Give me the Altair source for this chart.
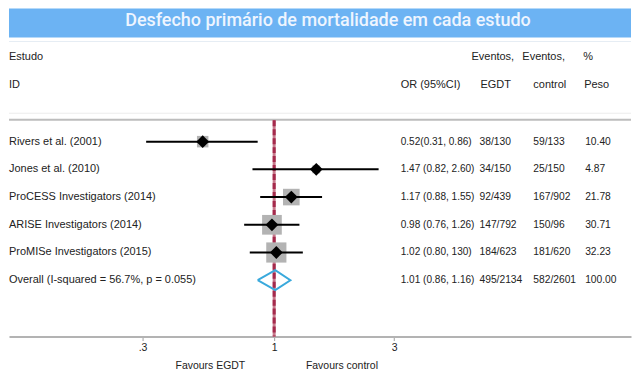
import altair as alt
import pandas as pd

# ---------------- data ----------------
title_text = "Desfecho primário de mortalidade em cada estudo"
studies = ["Rivers et al. (2001)", "Jones et al. (2010)", "ProCESS Investigators (2014)",
           "ARISE Investigators (2014)", "ProMISe Investigators (2015)"]
or_est = [0.52, 1.47, 1.17, 0.98, 1.02]
ci_low = [0.31, 0.82, 0.88, 0.76, 0.80]
ci_high = [0.86, 2.60, 1.55, 1.26, 1.30]
or_text = ["0.52(0.31, 0.86)", "1.47 (0.82, 2.60)", "1.17 (0.88, 1.55)",
           "0.98 (0.76, 1.26)", "1.02 (0.80, 130)"]
events_egdt = ["38/130", "34/150", "92/439", "147/792", "184/623"]
events_control = ["59/133", "25/150", "167/902", "150/96", "181/620"]
weights = [10.40, 4.87, 21.78, 30.71, 32.23]

overall_label = "Overall (I-squared = 56.7%, p = 0.055)"
overall_or = 1.01
overall_low = 0.86
overall_high = 1.16
overall_text = "1.01 (0.86, 1.16)"
overall_egdt = "495/2134"
overall_control = "582/2601"
overall_weight = 100.00

tick_values = [0.3, 1, 3]
tick_labels = [".3", "1", "3"]
favours = ["Favours EGDT", "Favours control"]
header_top = ["Estudo", "Eventos,", "Eventos,", "%"]
header_bottom = ["ID", "OR (95%CI)", "EGDT", "control", "Peso"]

# ---------------- layout (pixels) ----------------
W, H = 624, 329
FONT = "Liberation Sans"
TXT = "#222222"
header_top_x = [0, 464, 515, 576]
header_bottom_x = [0, 393, 473, 526, 577]
col_x = {"study": 0, "or_text": 393, "egdt": 472, "ctrl": 526, "wtxt": 578}
col_size = {"study": 11, "or_text": 10.1, "egdt": 10.3, "ctrl": 10.3, "wtxt": 10.3}
favours_x = [202, 334]

n = len(studies)
studies_df = pd.DataFrame({
    "row": list(range(n)), "study": studies, "or": or_est,
    "lo": ci_low, "hi": ci_high, "w": weights,
})
table_df = pd.DataFrame({
    "row": list(range(n + 1)),
    "study": studies + [overall_label],
    "or_text": or_text + [overall_text],
    "egdt": events_egdt + [overall_egdt],
    "ctrl": events_control + [overall_control],
    "wtxt": [f"{v:.2f}" for v in weights + [overall_weight]],
})
half_h = 0.36  # diamond half-height in row units
diamond_df = pd.DataFrame({
    "x": [overall_low, overall_or, overall_high, overall_or, overall_low],
    "row": [n, n - half_h, n, n + half_h, n],
    "ord": [0, 1, 2, 3, 4],
})

label_expr = "'" + tick_labels[-1] + "'"
for v, l in reversed(list(zip(tick_values[:-1], tick_labels[:-1]))):
    label_expr = f"datum.value < {v} * 1.5 ? '{l}' : " + label_expr

xscale = alt.Scale(type="log", domain=[0.0884, 26.17], nice=False)
yscale = alt.Scale(domain=[0, n], range=[133.5, 272.5])

X = lambda f: alt.X(f, type="quantitative", scale=xscale, axis=alt.Axis(
    values=tick_values, labelExpr=label_expr, title=None, grid=False,
    domainColor="#b3b3b3", domainWidth=2, tickColor="#a0a0a0", tickSize=4,
    labelFont=FONT, labelFontSize=10.5, labelColor=TXT, labelPadding=2))
Y = lambda f: alt.Y(f, type="quantitative", scale=yscale, axis=None)

layers = []

# title bar
layers.append(alt.Chart(pd.DataFrame({"t": [title_text]})).mark_rect(color="#6cb3f3").encode(
    x=alt.value(0), x2=alt.value(W), y=alt.value(0), y2=alt.value(29)))
layers.append(alt.Chart(pd.DataFrame({"t": [title_text]})).mark_text(
    font="Roboto", fontSize=18, fontWeight=500, color="#eef5ff", align="center", baseline="middle"
).encode(x=alt.value(320), y=alt.value(12), text="t:N"))

# separator lines
layers.append(alt.Chart(pd.DataFrame({"a": [0]})).mark_rule(color="#e6edf4", strokeWidth=1).encode(
    x=alt.value(0), x2=alt.value(W), y=alt.value(33)))
layers.append(alt.Chart(pd.DataFrame({"a": [0]})).mark_rule(color="#ececec", strokeWidth=1).encode(
    x=alt.value(0), x2=alt.value(W), y=alt.value(105)))
layers.append(alt.Chart(pd.DataFrame({"a": [0]})).mark_rule(color="#bdbdbd", strokeWidth=2).encode(
    x=alt.value(0), x2=alt.value(W), y=alt.value(111.5)))

# headers
for txt, px in zip(header_top, header_top_x):
    layers.append(alt.Chart(pd.DataFrame({"t": [txt]})).mark_text(
        font=FONT, fontSize=11, color=TXT, align="left", baseline="middle"
    ).encode(x=alt.value(px), y=alt.value(49), text="t:N"))
for txt, px in zip(header_bottom, header_bottom_x):
    layers.append(alt.Chart(pd.DataFrame({"t": [txt]})).mark_text(
        font=FONT, fontSize=11, color=TXT, align="left", baseline="middle"
    ).encode(x=alt.value(px), y=alt.value(77), text="t:N"))

# reference line at OR = 1
ref_df = pd.DataFrame({"x": [1.0]})
layers.append(alt.Chart(ref_df).mark_rule(color="#c77a8c", strokeWidth=3).encode(
    x=X("x"), y=alt.value(112), y2=alt.value(H)))
layers.append(alt.Chart(ref_df).mark_rule(color="#a52a4c", strokeWidth=3, strokeDash=[6, 3]).encode(
    x=X("x"), y=alt.value(112), y2=alt.value(H)))

# weight squares
layers.append(alt.Chart(studies_df).mark_square(color="#b3b3b3", opacity=1).encode(
    x=X("or"), y=Y("row"),
    size=alt.Size("w:Q", scale=alt.Scale(domain=[0, 32.23], range=[0, 410]), legend=None)))

# CI lines
layers.append(alt.Chart(studies_df).mark_rule(color="black", strokeWidth=2).encode(
    x=X("lo"), x2="hi", y=Y("row")))

# point estimates
layers.append(alt.Chart(studies_df).mark_point(shape="diamond", filled=True, color="black",
                                               size=165, opacity=1).encode(
    x=X("or"), y=Y("row")))

# overall diamond
layers.append(alt.Chart(diamond_df).mark_line(color="#39a9dc", strokeWidth=2).encode(
    x=X("x"), y=Y("row"), order="ord:Q"))

# table text
for col, px in col_x.items():
    layers.append(alt.Chart(table_df).mark_text(
        font=FONT, fontSize=col_size[col], color=TXT, align="left", baseline="middle"
    ).encode(x=alt.value(px), y=Y("row"), text=f"{col}:N"))

# favours labels
for txt, px in zip(favours, favours_x):
    layers.append(alt.Chart(pd.DataFrame({"t": [txt]})).mark_text(
        font=FONT, fontSize=10.5, color=TXT, align="center", baseline="middle"
    ).encode(x=alt.value(px), y=alt.value(359), text="t:N"))

chart = alt.layer(*layers).properties(
    width=W, height=H, padding=0, background="white"
).configure_view(stroke=None)

chart.save("out.html", embed_options={"renderer": "svg", "actions": False})
